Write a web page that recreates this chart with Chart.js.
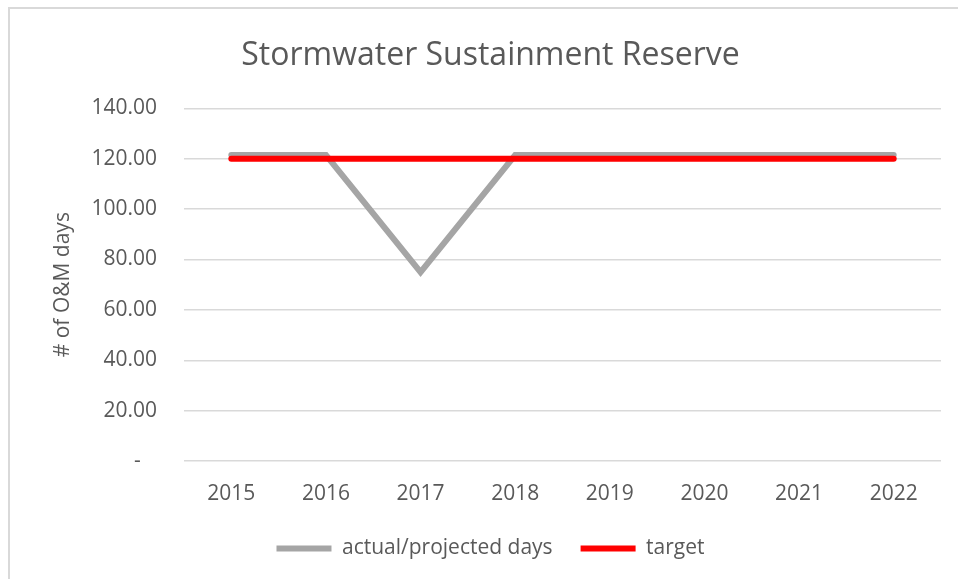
<!DOCTYPE html>
<html>
<head>
<meta charset="UTF-8">
<title>Stormwater Sustainment Reserve</title>
<script src="https://cdn.jsdelivr.net/npm/chart.js@4.4.1/dist/chart.umd.min.js"></script>
<style>
  body { margin: 0; background: #fff; }
  #frame { position: absolute; left: 8px; top: 7px; width: 960px; height: 580px;
           border-left: 2px solid #d9d9d9; border-top: 2px solid #d9d9d9; }
  #wrap { position: absolute; left: 0; top: 0; width: 958px; height: 579px; }
</style>
</head>
<body>
<div id="frame"></div>
<div id="wrap"><canvas id="chart"></canvas></div>
<script>
  // values
  var years = ['2015', '2016', '2017', '2018', '2019', '2020', '2021', '2022'];
  var actualDays = [121.5, 121.5, 75, 121.5, 121.5, 121.5, 121.5, 121.5];
  var targetDays = [120, 120, 120, 120, 120, 120, 120, 120];

  var txt = '#595959';
  var fam = "'Open Sans', 'Noto Sans', sans-serif";

  new Chart(document.getElementById('chart').getContext('2d'), {
    type: 'line',
    data: {
      labels: years,
      datasets: [{
        label: 'actual/projected days',
        data: actualDays,
        borderColor: '#a5a5a5',
        backgroundColor: '#a5a5a5',
        borderWidth: 6,
        pointRadius: 0,
        tension: 0,
        borderCapStyle: 'round',
        order: 2
      }, {
        label: 'target',
        data: targetDays,
        borderColor: '#ff0000',
        backgroundColor: '#ff0000',
        borderWidth: 6,
        pointRadius: 0,
        tension: 0,
        borderCapStyle: 'round',
        order: 1
      }]
    },
    options: {
      responsive: true,
      maintainAspectRatio: false,
      animation: false,
      layout: { padding: { left: 40, right: 17, top: 0, bottom: 10 } },
      plugins: {
        title: {
          display: true,
          text: 'Stormwater Sustainment Reserve',
          color: txt,
          font: { family: fam, size: 32, weight: 'normal' },
          padding: { top: 37, bottom: 33 }
        },
        legend: {
          position: 'bottom',
          labels: {
            usePointStyle: true,
            pointStyle: 'line',
            pointStyleWidth: 55,
            color: txt,
            font: { family: fam, size: 21 },
            padding: 28,
            sort: function (a, b) { return a.datasetIndex - b.datasetIndex; }
          }
        },
        tooltip: { enabled: false }
      },
      scales: {
        x: {
          offset: true,
          grid: { display: false, drawTicks: false },
          border: { display: false },
          ticks: { color: txt, font: { family: fam, size: 21 }, padding: 20 },
          afterFit: function (scale) { scale.height = 49; }
        },
        y: {
          min: 0,
          max: 140,
          ticks: {
            stepSize: 20,
            color: txt,
            font: { family: fam, size: 21 },
            padding: 27,
            callback: function (v) { return v === 0 ? '-   ' : v.toFixed(2); }
          },
          grid: { color: '#d9d9d9', lineWidth: 1.5, drawTicks: false },
          border: { display: false },
          title: {
            display: true,
            text: '# of O&M days',
            color: txt,
            font: { family: fam, size: 21 },
            padding: { top: 10, bottom: 0 }
          },
          afterFit: function (scale) { scale.width = 144; }
        }
      }
    }
  });
</script>
</body>
</html>
